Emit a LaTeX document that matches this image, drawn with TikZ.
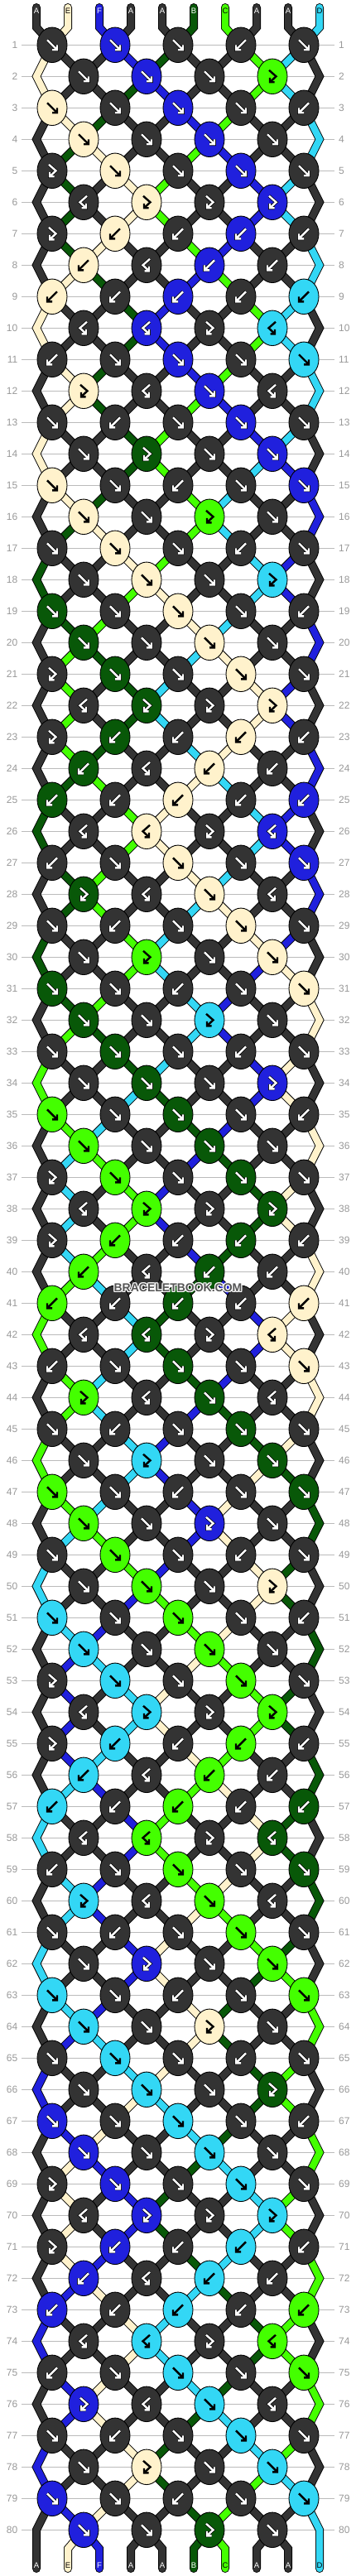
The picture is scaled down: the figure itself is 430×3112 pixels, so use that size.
\documentclass[tikz,border=0pt]{standalone}
\usepackage{fontspec}
\setmainfont{Liberation Sans}
\usetikzlibrary{shapes.geometric}

\definecolor{cA}{HTML}{333333}
\definecolor{cB}{HTML}{085808}
\definecolor{cC}{HTML}{44FF00}
\definecolor{cD}{HTML}{33D7F5}
\definecolor{cE}{HTML}{FFF2CC}
\definecolor{cF}{HTML}{2020DD}
\definecolor{gridgray}{HTML}{BBBBBB}
\definecolor{numgray}{HTML}{999999}
\definecolor{wmgray}{HTML}{555555}
\def\arrA{white}\def\arrB{white}\def\arrF{white}
\def\arrC{black}\def\arrD{black}\def\arrE{black}
\def\outA{black}\def\outB{black}\def\outF{black}
\def\outC{none}\def\outD{none}\def\outE{none}

% knot types: f = forward, b = backward, x = forward-backward, y = backward-forward
\expandafter\def\csname rt1\endcsname{f,f,f,b,f}
\expandafter\def\csname rt2\endcsname{f,f,f,x}
\expandafter\def\csname rt3\endcsname{f,f,f,f,b}
\expandafter\def\csname rt4\endcsname{f,f,f,f}
\expandafter\def\csname rt5\endcsname{x,f,f,f,f}
\expandafter\def\csname rt6\endcsname{y,x,x,x}
\expandafter\def\csname rt7\endcsname{x,b,b,b,b}
\expandafter\def\csname rt8\endcsname{b,y,b,b}
\expandafter\def\csname rt9\endcsname{b,b,b,b,b}
\expandafter\def\csname rt10\endcsname{y,y,x,y}
\expandafter\def\csname rt11\endcsname{b,f,f,f,f}
\expandafter\def\csname rt12\endcsname{x,y,f,y}
\expandafter\def\csname rt13\endcsname{f,b,f,f,f}
\expandafter\def\csname rt14\endcsname{f,x,f,f}
\expandafter\def\csname rt15\endcsname{f,f,b,f,f}
\expandafter\def\csname rt16\endcsname{f,f,x,f}

\tikzset{
  kn/.style={ellipse,draw=black,line width=0.9pt,minimum width=36pt,minimum height=42.5pt,inner sep=0pt},
  strout/.style={line width=10pt,draw=black,line join=miter},
  strfill/.style={line width=8.2pt,line join=miter},
  gridline/.style={draw=gridgray,line width=1pt},
  rowlab/.style={text=numgray,font=\fontsize{12}{12}\selectfont,inner sep=0pt},
  strlab/.style={font=\fontsize{9.5}{9.5}\selectfont,inner sep=0pt},
  glyphst/.style={line cap=butt,line join=miter},
  wm/.style={font=\bfseries\fontsize{14}{14}\selectfont,inner sep=0pt},
}

% one string piece, as outline (pass 0) or as coloured fill (pass 1)
\newcommand\sgp[3][]{%
  \ifnum\passno=0 \draw[strout,#1] #3;\else \draw[strfill,draw=c#2,#1] #3;\fi}

\newcommand\drawglyph[2]{%
  \if#1f\draw[#2] (-6,-6) -- (6,6) (6,0) -- (6,6) -- (0,6);\fi
  \if#1b\draw[#2] (6,-6) -- (-6,6) (-6,0) -- (-6,6) -- (0,6);\fi
  \if#1x\draw[#2] (-4,-7.5) -- (4.5,0) -- (-3,7) (-3,1.5) -- (-3,7) -- (2.5,7);\fi
  \if#1y\draw[#2] (4,-7.5) -- (-4.5,0) -- (3,7) (3,1.5) -- (3,7) -- (-2.5,7);\fi}

\newcommand\stringpass{%
\foreach \rr in {1,...,81}{
  \pgfmathtruncatemacro\rp{\rr-1}
  \pgfmathtruncatemacro\rpp{\rr-2}
  \foreach \p in {0,...,9}{
    \edef\segc{\csname sg\rr-\p\endcsname}
    \pgfmathtruncatemacro\pa{\p/2}
    \pgfmathtruncatemacro\pb{max(\p-1,0)/2}
    \ifnum\rr=1
      \sgp[line cap=round]{\segc}{(te\p) -- (t\p) -- (k1-\pa)}
    \else\ifnum\rr=81
      \ifnum\p=0 \sgp[line cap=round]{\segc}{(k79-0) -- (eL80) -- (b0) -- (be0)}
      \else\ifnum\p=9 \sgp[line cap=round]{\segc}{(k79-4) -- (eR80) -- (b9) -- (be9)}
      \else \sgp[line cap=round]{\segc}{(k80-\pb) -- (b\p) -- (be\p)}\fi\fi
    \else\ifodd\rr
      \ifnum\p=0 \sgp{\segc}{(k\rpp-0) -- (eL\rp) -- (k\rr-0)}
      \else\ifnum\p=9 \sgp{\segc}{(k\rpp-4) -- (eR\rp) -- (k\rr-4)}
      \else \sgp{\segc}{(k\rp-\pb) -- (k\rr-\pa)}\fi\fi
    \else
      \ifnum\p=0 \else\ifnum\p=9 \else
        \sgp{\segc}{(k\rp-\pa) -- (k\rr-\pb)}
      \fi\fi
    \fi\fi\fi
  }
}}

\begin{document}
\begin{tikzpicture}[x=1pt,y=-1pt]
\useasboundingbox (0,0) rectangle (430,3112);
\fill[white] (0,0) rectangle (430,3112);

% grid lines and row numbers
\foreach \rr in {1,...,80}{
  \pgfmathsetmacro\yy{54.3+38*(\rr-1)}
  \draw[gridline] (26,\yy) -- (404,\yy);
  \node[rowlab,anchor=east] (nl\rr) at (21.5,\yy) {\rr};
  \node[rowlab,anchor=west] (nr\rr) at (409,\yy) {\rr};
}

% string start and end points
\foreach \p/\lt in {0/A,1/E,2/F,3/A,4/A,5/B,6/C,7/A,8/A,9/D}{
  \coordinate (t\p) at ({44+38*\p},33);
  \coordinate (te\p) at ({44+38*\p},9);
  \coordinate (b\p) at ({44+38*\p},3079);
  \coordinate (be\p) at ({44+38*\p},3103);
  \expandafter\xdef\csname st\p\endcsname{\lt}
}

% simulation: knot places, knot colours, string colours
\foreach \rr in {1,...,80}{
  \pgfmathsetmacro\yy{54.3+38*(\rr-1)}
  \pgfmathtruncatemacro\m{mod(\rr-1,16)+1}
  \ifodd\rr\else
    \coordinate (eL\rr) at (44,\yy);
    \coordinate (eR\rr) at (386,\yy);
  \fi
  \foreach \p in {0,...,9}{\expandafter\xdef\csname sg\rr-\p\endcsname{\csname st\p\endcsname}}
  \edef\types{\csname rt\m\endcsname}
  \foreach \ty [count=\kk from 0] in \types {%
    \ifodd\rr
      \pgfmathtruncatemacro\lp{2*\kk}\pgfmathsetmacro\xx{63+76*\kk}%
    \else
      \pgfmathtruncatemacro\lp{2*\kk+1}\pgfmathsetmacro\xx{101+76*\kk}%
    \fi
    \pgfmathtruncatemacro\rpos{\lp+1}%
    \coordinate (k\rr-\kk) at (\xx,\yy);
    \edef\sL{\csname st\lp\endcsname}%
    \edef\sR{\csname st\rpos\endcsname}%
    \edef\kc{\sL}%
    \if\ty b\edef\kc{\sR}\fi
    \if\ty y\edef\kc{\sR}\fi
    \expandafter\xdef\csname kc\rr-\kk\endcsname{\kc}%
    \if\ty f\expandafter\xdef\csname st\lp\endcsname{\sR}\expandafter\xdef\csname st\rpos\endcsname{\sL}\fi
    \if\ty b\expandafter\xdef\csname st\lp\endcsname{\sR}\expandafter\xdef\csname st\rpos\endcsname{\sL}\fi
  }
}
\foreach \p in {0,...,9}{\expandafter\xdef\csname sg81-\p\endcsname{\csname st\p\endcsname}}

% strings: outlines, then fills
\def\passno{0}\stringpass
\def\passno{1}\stringpass

% knots with their arrows
\foreach \rr in {1,...,80}{
  \pgfmathtruncatemacro\m{mod(\rr-1,16)+1}
  \edef\types{\csname rt\m\endcsname}
  \foreach \ty [count=\kk from 0] in \types {%
    \edef\kc{\csname kc\rr-\kk\endcsname}%
    \node[kn,fill=c\kc] (K\rr-\kk) at (k\rr-\kk) {};
    \edef\ac{\csname arr\kc\endcsname}\edef\oc{\csname out\kc\endcsname}%
    \begin{scope}[shift={(K\rr-\kk.center)}]
      \drawglyph{\ty}{glyphst,draw=\oc,line width=3.8pt}%
      \drawglyph{\ty}{glyphst,draw=\ac,line width=2.4pt}%
    \end{scope}
  }
}

% string letters at both ends
\foreach \p in {0,...,9}{
  \edef\segc{\csname sg1-\p\endcsname}
  \edef\tc{\csname arr\segc\endcsname}
  \node[strlab,text=\tc] (tl\p) at ({44+38*\p},13) {\segc};
  \edef\segc{\csname sg81-\p\endcsname}
  \edef\tc{\csname arr\segc\endcsname}
  \node[strlab,text=\tc] (bl\p) at ({44+38*\p},3099) {\segc};
}

% watermark
\foreach \dx/\dy [count=\w] in {-1/-1,-1/0,-1/1,0/-1,0/1,1/-1,1/0,1/1}
  \node[wm,text=white] (wmh\w) at ({215+\dx},{1556+\dy}) {BRACELETBOOK.COM};
\node[wm,text=wmgray] (wm) at (215,1556) {BRACELETBOOK.COM};
\end{tikzpicture}
\end{document}
